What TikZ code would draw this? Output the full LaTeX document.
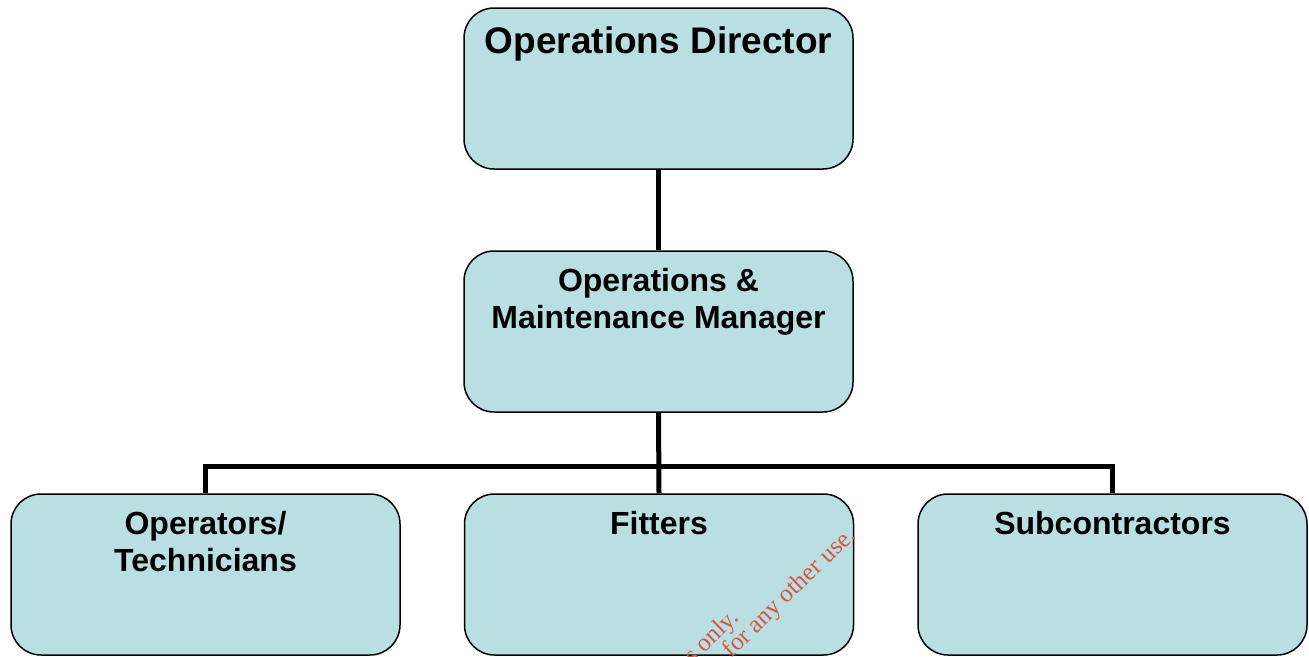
\documentclass[tikz,border=0pt]{standalone}
\usepackage{fontspec}
\setmainfont{Liberation Sans}
\newfontfamily\markfont{Liberation Serif}
\usepackage{xcolor}
\definecolor{boxfill}{HTML}{B9DFE3}
\definecolor{markred}{HTML}{D9553F}

\tikzset{
  unit/.style={draw, line width=1.5pt, fill=boxfill, rounded corners=30pt,
    minimum width=389pt, minimum height=161pt, inner sep=0pt},
  title/.style={anchor=north, inner sep=0pt, align=center, font=\bfseries\fontsize{32}{37}\selectfont},
  wmark/.style={anchor=base east, rotate=44, inner sep=0pt, text=markred, font=\markfont\fontsize{25}{24}\selectfont},
  link/.style={line width=5pt}
}

\begin{document}
\begin{tikzpicture}[x=1pt,y=-1pt]
	\useasboundingbox (0,0) rectangle (1309,656);
	\clip (0,0) rectangle (1309,656);
	% boxes
	\node[unit] (dir) at (658.5,88.5) {};
	\node[unit] (mgr) at (658.5,331.5) {};
	\node[unit] (ops) at (205.5,574.5) {};
	\node[unit] (fit) at (659,574.5) {};
	\node[unit] (sub) at (1112.5,574.5) {};
	% connectors
	\draw[link] (dir.south) -- (mgr.north);
	\draw[link] (mgr.south) -- (fit.north);
	\coordinate (bus) at (658.5,466);
	\draw[link] (ops.north) |- (bus) -| (sub.north);
	% texts
	\node[title, font=\bfseries\fontsize{37}{42}\selectfont] (dirtxt) at ([yshift=-19]dir.north) {Operations Director};
	\node[title] (mgrtxt) at ([yshift=-18]mgr.north) {Operations \&\\Maintenance Manager};
	\node[title] (opstxt) at ([yshift=-18]ops.north) {Operators/\\Technicians};
	\node[title] (fittxt) at ([yshift=-18]fit.north) {Fitters};
	\node[title] (subtxt) at ([yshift=-18]sub.north) {Subcontractors};
	% watermark
	\node[wmark] (mark1) at (740,619) {s only.};
	\node[wmark] (mark2) at (857,537) {for any other use.};
\end{tikzpicture}
\end{document}
